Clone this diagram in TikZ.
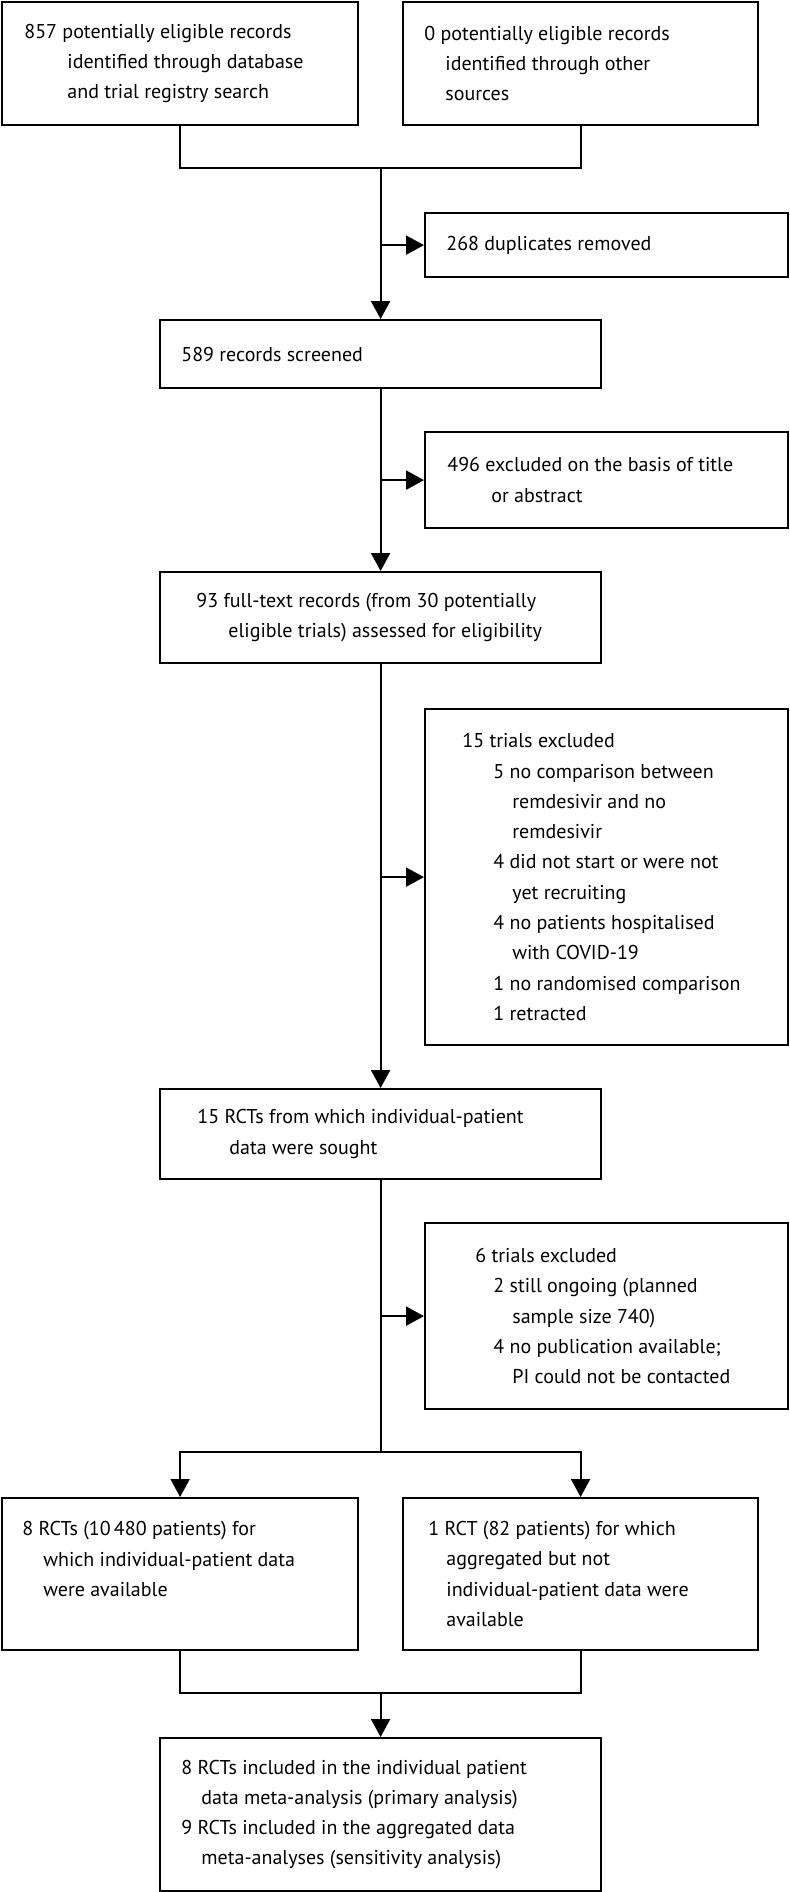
\documentclass[tikz,border=0pt]{standalone}
\usepackage{fontspec}
\setmainfont{PT Sans}
\usetikzlibrary{arrows.meta,calc}
\begin{document}
\begin{tikzpicture}[x=0.5pt,y=-0.5pt,
  box/.style={draw=black,line width=1.1pt,inner sep=0pt,anchor=north west},
  txt/.style={inner sep=0pt,align=left,anchor=west,text=black,font=\fontsize{10}{15.15}\selectfont},
  link/.style={draw=black,line width=1.1pt},
  arr/.style={link,-{Triangle[length=9pt,width=9.5pt]}}]
\useasboundingbox (0,0) rectangle (789,1892);
% boxes
\node[box,minimum width=178pt,minimum height=61.5pt] (A) at (1,1) {};
\node[box,minimum width=177.5pt,minimum height=61.5pt] (B) at (402,1) {};
\node[box,minimum width=181.5pt,minimum height=32pt] (D) at (424,212) {};
\node[box,minimum width=220.5pt,minimum height=34pt] (C) at (159,319) {};
\node[box,minimum width=181.5pt,minimum height=48pt] (E) at (424,431) {};
\node[box,minimum width=220.5pt,minimum height=45.5pt] (F) at (159,571) {};
\node[box,minimum width=181.5pt,minimum height=168pt] (G) at (424,708) {};
\node[box,minimum width=220.5pt,minimum height=45pt] (H) at (159,1088) {};
\node[box,minimum width=181.5pt,minimum height=93pt] (I) at (424,1222) {};
\node[box,minimum width=178pt,minimum height=76pt] (J) at (1,1497) {};
\node[box,minimum width=177.5pt,minimum height=76pt] (K) at (402,1497) {};
\node[box,minimum width=220.5pt,minimum height=76.5pt] (L) at (159,1737) {};
% texts
\node[txt] (tA) at ($(A.west)+(11.5pt,0)$) {857 potentially eligible records\\
  \hspace*{21.5pt}identified through database\\
  \hspace*{21.5pt}and trial registry search};
\node[txt] (tB) at ($(B.west)+(11pt,0)$) {0 potentially eligible records\\
  \hspace*{10.5pt}identified through other\\
  \hspace*{10.5pt}sources};
\node[txt] (tD) at ($(D.west)+(11pt,0)$) {268 duplicates removed};
\node[txt] (tC) at ($(C.west)+(11pt,0)$) {589 records screened};
\node[txt] (tE) at ($(E.west)+(11.5pt,0)$) {496 excluded on the basis of title\\
  \hspace*{22pt}or abstract};
\node[txt] (tF) at ($(F.west)+(18.5pt,0)$) {93 full-text records (from 30 potentially\\
  \hspace*{16pt}eligible trials) assessed for eligibility};
\node[txt] (tG) at ($(G.west)+(19pt,0)$) {15 trials excluded\\
  \hspace*{15.5pt}5 no comparison between\\
  \hspace*{25pt}remdesivir and no\\
  \hspace*{25pt}remdesivir\\
  \hspace*{15.5pt}4 did not start or were not\\
  \hspace*{25pt}yet recruiting\\
  \hspace*{15.5pt}4 no patients hospitalised\\
  \hspace*{25pt}with COVID-19\\
  \hspace*{15.5pt}1 no randomised comparison\\
  \hspace*{15.5pt}1 retracted};
\node[txt] (tH) at ($(H.west)+(19pt,0)$) {15 RCTs from which individual-patient\\
  \hspace*{16pt}data were sought};
\node[txt] (tI) at ($(I.west)+(25.5pt,0)$) {6 trials excluded\\
  \hspace*{9pt}2 still ongoing (planned\\
  \hspace*{18.5pt}sample size 740)\\
  \hspace*{9pt}4 no publication available;\\
  \hspace*{18.5pt}PI could not be contacted};
\node[txt] (tJ) at ($(J.west)+(10.5pt,0)$) {8 RCTs (10\,480 patients) for\\
  \hspace*{10.5pt}which individual-patient data\\
  \hspace*{10.5pt}were available\\ \mbox{}};
\node[txt] (tK) at ($(K.west)+(13pt,0)$) {1 RCT (82 patients) for which\\
  \hspace*{9pt}aggregated but not\\
  \hspace*{9pt}individual-patient data were\\
  \hspace*{9pt}available};
\node[txt] (tL) at ($(L.west)+(11pt,0)$) {8 RCTs included in the individual patient\\
  \hspace*{10pt}data meta-analysis (primary analysis)\\
  9 RCTs included in the aggregated data\\
  \hspace*{10pt}meta-analyses (sensitivity analysis)};
% connectors
\coordinate (m1) at (C.north |- 0,168);
\coordinate (s1) at (C.north |- 0,1452);
\coordinate (m2) at (C.north |- 0,1693);
\draw[link] (A.south) |- (B.south |- m1) -- (B.south);
\draw[arr] (m1) -- (C.north);
\draw[arr] (m1 |- D.west) -- (D.west);
\draw[arr] (C.south) -- (F.north);
\draw[arr] (C.south |- E.west) -- (E.west);
\draw[arr] (F.south) -- (H.north);
\draw[arr] (F.south |- G.west) -- (G.west);
\draw[link] (H.south) -- (s1);
\draw[arr] (H.south |- I.west) -- (I.west);
\draw[arr] (s1) -| (J.north);
\draw[arr] (s1) -| (K.north);
\draw[link] (J.south) |- (m2) -| (K.south);
\draw[arr] (m2) -- (L.north);
\end{tikzpicture}
\end{document}
